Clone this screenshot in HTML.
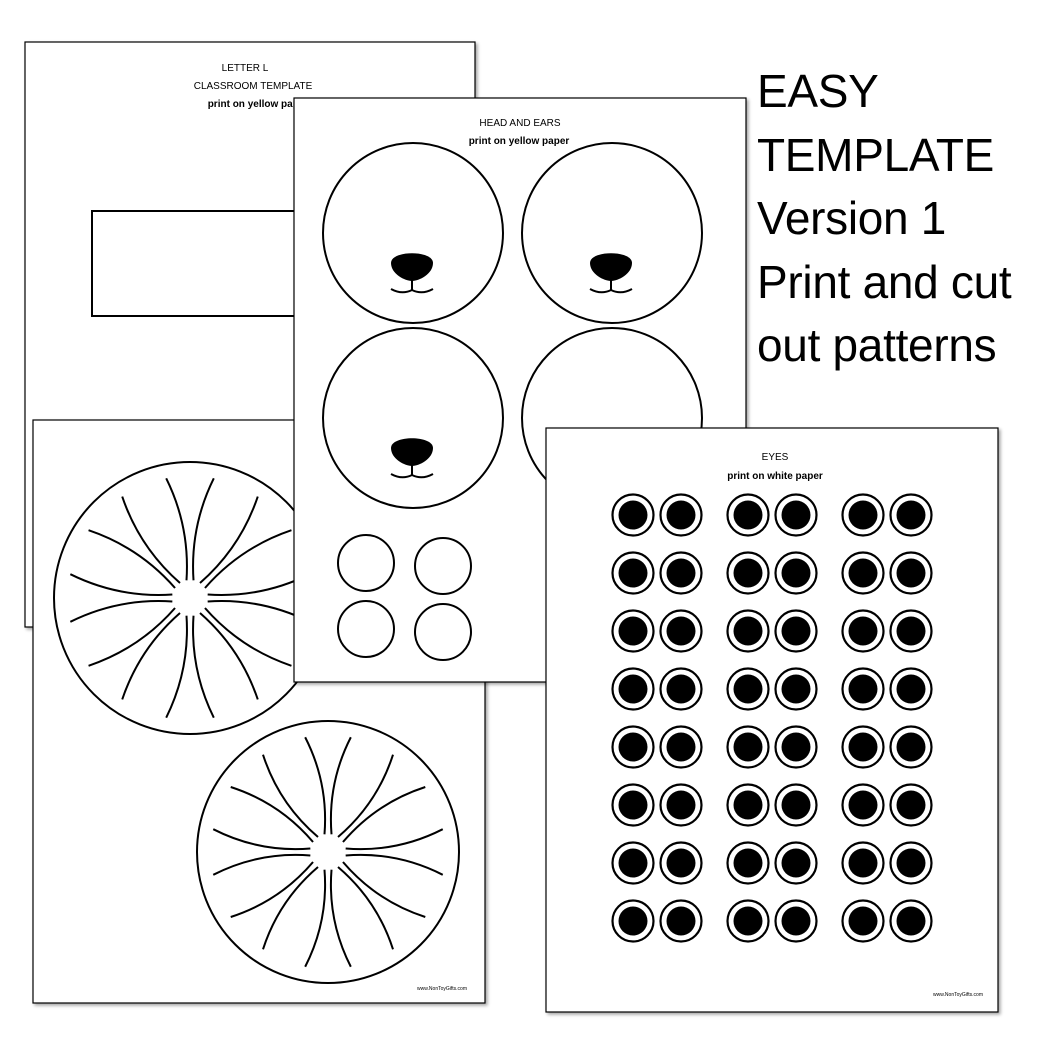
<!DOCTYPE html>
<html><head><meta charset="utf-8">
<style>
html,body{margin:0;padding:0;background:#fff;}
body{width:1056px;height:1056px;overflow:hidden;position:relative;}
svg{position:absolute;left:0;top:0;}
.big{position:absolute;left:757px;top:60px;font-family:"Liberation Sans",sans-serif;font-size:46px;line-height:63.5px;color:#000;letter-spacing:-0.3px;}
</style></head><body>
<svg width="1056" height="1056" viewBox="0 0 1056 1056" xmlns="http://www.w3.org/2000/svg" font-family="'Liberation Sans Narrow','Liberation Sans',sans-serif">
<defs>
<filter id="sh" x="-5%" y="-5%" width="110%" height="110%">
<feDropShadow dx="2" dy="2" stdDeviation="1.5" flood-color="#000" flood-opacity="0.35"/>
</filter>
</defs>
<rect x="25" y="42" width="450" height="585" fill="#fff" stroke="#000" stroke-width="1.2" filter="url(#sh)"/>
<text x="245" y="71" font-size="10" text-anchor="middle">LETTER L</text>
<text x="253" y="89" font-size="10" text-anchor="middle">CLASSROOM TEMPLATE</text>
<text x="258" y="107" font-size="10" font-weight="bold" text-anchor="middle">print on yellow paper</text>
<rect x="92" y="211" width="260" height="105" fill="none" stroke="#000" stroke-width="2"/>
<rect x="33" y="420" width="452" height="583" fill="#fff" stroke="#000" stroke-width="1.2" filter="url(#sh)"/>
<g id="m1" fill="none" stroke="#000" stroke-width="2"></g>
<g id="m2" fill="none" stroke="#000" stroke-width="2"></g>
<text x="442" y="990" font-size="5" text-anchor="middle">www.NonToyGifts.com</text>
<rect x="294" y="98" width="452" height="584" fill="#fff" stroke="#000" stroke-width="1.2" filter="url(#sh)"/>
<text x="520" y="126" font-size="10" text-anchor="middle">HEAD AND EARS</text>
<text x="519" y="144" font-size="10" font-weight="bold" text-anchor="middle">print on yellow paper</text>
<g fill="none" stroke="#000" stroke-width="2">
<circle cx="413" cy="233" r="90"/>
<circle cx="612" cy="233" r="90"/>
<circle cx="413" cy="418" r="90"/>
<circle cx="612" cy="418" r="90"/>
<circle cx="366" cy="563" r="28"/>
<circle cx="443" cy="566" r="28"/>
<circle cx="366" cy="629" r="28"/>
<circle cx="443" cy="632" r="28"/>
<circle cx="575" cy="563" r="28"/>
<circle cx="575" cy="629" r="28"/>
</g>
<g id="noses"></g>
<rect x="546" y="428" width="452" height="584" fill="#fff" stroke="#000" stroke-width="1.2" filter="url(#sh)"/>
<text x="775" y="460" font-size="10" text-anchor="middle">EYES</text>
<text x="775" y="479" font-size="10" font-weight="bold" text-anchor="middle">print on white paper</text>
<g id="eyes"></g>
<text x="958" y="996" font-size="5" text-anchor="middle">www.NonToyGifts.com</text>
</svg>
<div class="big">EASY<br>TEMPLATE<br>Version 1<br>Print and cut<br>out patterns</div>
<script>
var NS="http://www.w3.org/2000/svg";
function el(t,a,p){var e=document.createElementNS(NS,t);for(var k in a)e.setAttribute(k,a[k]);p.appendChild(e);return e;}
function mane(id,cx,cy,r){
 var g=document.getElementById(id);
 el('circle',{cx:cx,cy:cy,r:r},g);
 var n=16;
 for(var i=0;i<n;i++){
  var a=(i+0.5)*2*Math.PI/n;
  var ri=18,ro=r-14;
  var x1=cx+ri*Math.cos(a),y1=cy+ri*Math.sin(a);
  var x2=cx+ro*Math.cos(a),y2=cy+ro*Math.sin(a);
  var s=(i%2?1:-1)*14;
  var mx=(x1+x2)/2-Math.sin(a)*s,my=(y1+y2)/2+Math.cos(a)*s;
  el('path',{d:'M'+x1+' '+y1+' Q'+mx+' '+my+' '+x2+' '+y2},g);
 }
}
mane('m1',190,598,136);
mane('m2',328,852,131);
var ng=document.getElementById('noses');
[[412,266],[611,266],[412,451]].forEach(function(p){
 var x=p[0],y=p[1];
 el('path',{d:'M'+(x-21)+' '+(y-3)+' C'+(x-21)+' '+(y-16)+' '+(x+21)+' '+(y-16)+' '+(x+21)+' '+(y-3)+' C'+(x+21)+' '+(y+8)+' '+(x+7)+' '+(y+15)+' '+x+' '+(y+15)+' C'+(x-7)+' '+(y+15)+' '+(x-21)+' '+(y+8)+' '+(x-21)+' '+(y-3)+'Z',fill:'#000'},ng);
 el('path',{d:'M'+x+' '+(y+12)+' L'+x+' '+(y+24)+' M'+(x-21)+' '+(y+23)+' Q'+(x-10)+' '+(y+29)+' '+x+' '+(y+24)+' Q'+(x+10)+' '+(y+29)+' '+(x+21)+' '+(y+23),fill:'none',stroke:'#000','stroke-width':2},ng);
});
var eg=document.getElementById('eyes');
var xs=[633,681,748,796,863,911];
for(var r=0;r<8;r++){var y=515+r*58;xs.forEach(function(x){
 el('circle',{cx:x,cy:y,r:20.5,fill:'#fff',stroke:'#000','stroke-width':2.2},eg);
 el('circle',{cx:x,cy:y,r:14.5,fill:'#000'},eg);
});}
</script>
</body></html>
